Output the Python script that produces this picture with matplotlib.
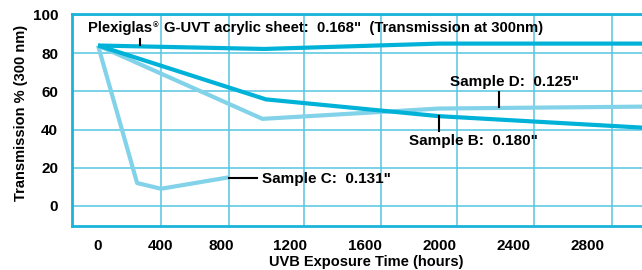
import numpy as np
import matplotlib
matplotlib.use("Agg")
import matplotlib.pyplot as plt

# ---------------- data ----------------
plexi_hours = [0, 1050, 2000, 3100]
plexi_trans = [84, 82.2, 85, 85]

sample_b_hours = [0, 1060, 2000, 3100]
sample_b_trans = [84, 55.8, 47, 41]

sample_d_hours = [0, 1040, 2000, 3100]
sample_d_trans = [84, 45.6, 51, 52]

sample_c_hours = [0, 252, 406, 846]
sample_c_trans = [84, 12, 9, 15]

x_tick_values = [0, 400, 800, 1200, 1600, 2000, 2400, 2800]
x_tick_labels = ["0", "400", "800", "1200", "1600", "2000", "2400", "2800"]
y_tick_values = [0, 20, 40, 60, 80, 100]
y_tick_labels = ["0", "20", "40", "60", "80", "100"]

# ---------------- style ----------------
DARK = "#00b2d8"
LIGHT = "#82d2ea"
GRID = "#55c6e2"
FONT = "Liberation Sans"

# axis is drawn with an uneven (hand-drawn) hour spacing
knot_hours = [-2000, 0, 400, 800, 1200, 1600, 2000, 2400, 2800, 5000]
knot_pos = [98 - 310, 98, 160, 221, 290, 365, 439, 513, 587, 587 + 74 * 5.5]

def fwd(x):
    return np.interp(x, knot_hours, knot_pos)

def inv(p):
    return np.interp(p, knot_pos, knot_hours)

grid_hours = [0, 406, 846, 1275, 1686, 2097, 2514, 2935]

fig = plt.figure(figsize=(6.42, 2.70), dpi=100)
ax = fig.add_axes([72 / 642, 44 / 270, 1 - 72 / 642, (226 - 14) / 270])
ax.set_xscale("function", functions=(fwd, inv))
ax.set_xlim(-168, 3097)
ax.set_ylim(-10.5, 100.5)

ax.set_xticks(x_tick_values)
ax.set_xticklabels(x_tick_labels)
ax.set_xticks(grid_hours, minor=True)
ax.set_yticks(y_tick_values)
ax.set_yticklabels(y_tick_labels)
ax.tick_params(which="both", length=0)
ax.tick_params(axis="x", pad=9)
ax.tick_params(axis="y", pad=10)
for lab in ax.get_xticklabels() + ax.get_yticklabels():
    lab.set_fontfamily(FONT)
    lab.set_fontweight("bold")
    lab.set_fontsize(11)
    lab.set_color("black")

ax.grid(False)
ax.grid(True, axis="x", which="minor", color=GRID, lw=1.1)
ax.grid(True, axis="y", which="major", color=GRID, lw=1.1)

for s in ["left", "bottom", "top"]:
    ax.spines[s].set_color("#1ab4da")
    ax.spines[s].set_linewidth(2)
ax.spines["right"].set_visible(False)

lw = 3.0
ax.plot(sample_c_hours, sample_c_trans, color=LIGHT, lw=lw, solid_joinstyle="round", solid_capstyle="butt")
ax.plot(sample_d_hours, sample_d_trans, color=LIGHT, lw=lw, solid_joinstyle="round", solid_capstyle="butt")
ax.plot(sample_b_hours, sample_b_trans, color=DARK, lw=lw, solid_joinstyle="round", solid_capstyle="butt")
ax.plot(plexi_hours, plexi_trans, color=DARK, lw=lw, solid_joinstyle="round", solid_capstyle="butt")

tkw = dict(fontfamily=FONT, fontweight="bold", fontsize=11, color="black")
pkw = dict(tkw, fontsize=10.7)

# Plexiglas label + pointer
t = ax.text(-65, 93.0, "Plexiglas", ha="left", va="center", **pkw)
fig.canvas.draw()
bb = t.get_window_extent()
x_end = ax.transData.inverted().transform((bb.x1 + 1, bb.y1))[0]
ax.text(x_end, 94.3, "\u00ae", ha="left", va="center", fontfamily=FONT, fontweight="bold",
        fontsize=5.5, color="black")
ax.text(x_end + 68, 93.0, "G-UVT acrylic sheet:  0.168\"  (Transmission at 300nm)",
        ha="left", va="center", **pkw)
ax.plot([272, 272], [84.2, 87.5], color="black", lw=1.5)

# Sample D
ax.text(2060, 65, "Sample D:  0.125\"", ha="left", va="center", **tkw)
ax.plot([2324, 2324], [52, 59.5], color="black", lw=1.5)

# Sample B
ax.text(1835, 34, "Sample B:  0.180\"", ha="left", va="center", **tkw)
ax.plot([2000, 2000], [47, 39.5], color="black", lw=1.5)

# Sample C
ax.text(1040, 14, "Sample C:  0.131\"", ha="left", va="center", **tkw)
ax.plot([846, 1010], [14.5, 14.5], color="black", lw=1.5)

ax.set_xlabel("UVB Exposure Time (hours)", fontfamily=FONT, fontweight="bold", fontsize=10.5)
ax.xaxis.set_label_coords((366 - 72) / 570, -0.135)
ax.set_ylabel("Transmission % (300 nm)", fontfamily=FONT, fontweight="bold", fontsize=10.5)
ax.yaxis.set_label_coords(-(72 - 28) / 570, (226 - 113) / 212)

fig.savefig("out.png", dpi=100)
